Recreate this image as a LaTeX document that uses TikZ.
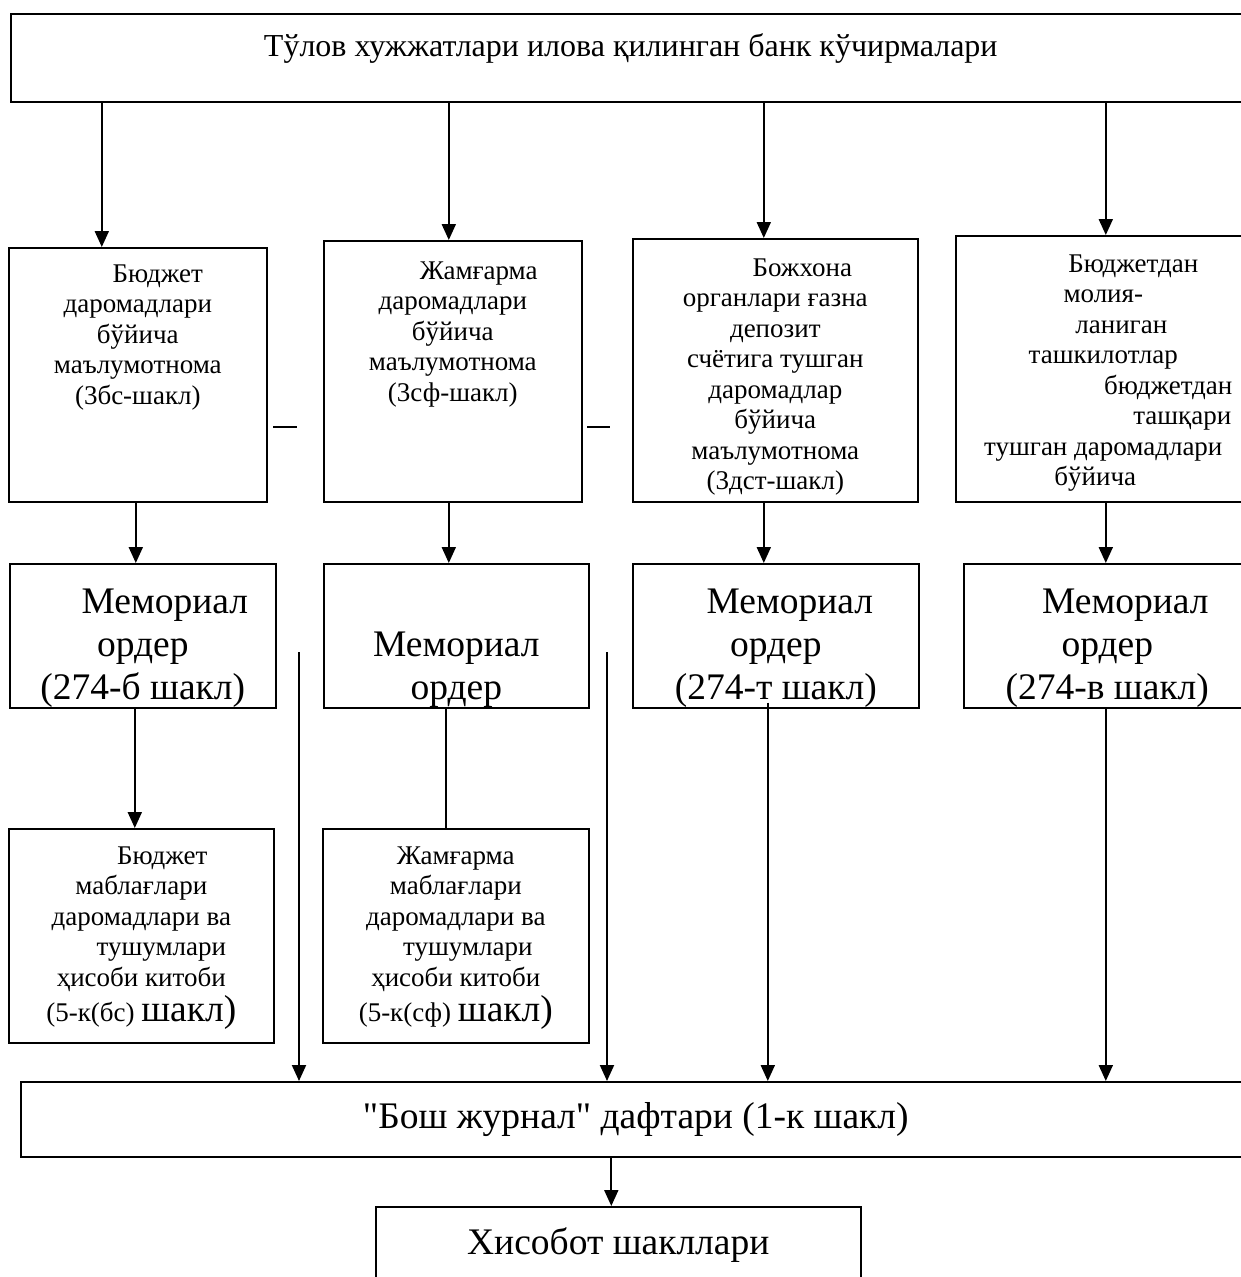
\documentclass[tikz,border=0pt]{standalone}
\usepackage{fontspec}
\setmainfont{Liberation Serif}[Ligatures=TeXOff]
\usetikzlibrary{arrows.meta,calc}
\newcommand{\txtsmall}{\fontsize{27}{30.5}\selectfont}
\newcommand{\txtlarge}{\fontsize{37.5}{43}\selectfont}
\newcommand{\txthead}{\fontsize{32}{36}\selectfont}
% text block hung from the top / sat on the bottom of a box
\newcommand{\topcell}[4]{\parbox[c][#2][t]{#1}{\centering\vspace*{#3}#4\par}}
\newcommand{\botcell}[4]{\parbox[c][#2][b]{#1}{\centering #4\par\vspace*{#3}}}
\newcommand{\midcell}[3]{\parbox[c][#2][c]{#1}{\centering #3\par}}
\tikzset{
  every node/.style={text=black},
  box/.style={draw,line width=1.6pt,inner sep=0pt,anchor=north west},
  arrow/.style={-{Triangle[width=14pt,length=16pt]},line width=2pt},
  plain/.style={line width=2pt},
  stub/.style={line width=1.5pt},
}
\begin{document}
\begin{tikzpicture}[x=1pt,y=-1pt]
\useasboundingbox (0,0) rectangle (1240,1277);
% source
\node[box] (top) at (10,13) {\topcell{1240pt}{88pt}{20pt}{\txthead Тўлов хужжатлари илова қилинган банк кўчирмалари}};
% reports
\node[box] (b1) at (8,247) {\topcell{258pt}{254pt}{17pt}{\txtsmall\hspace*{40pt}Бюджет\\даромадлари\\бўйича\\маълумотнома\\(3бс-шакл)}};
\node[box] (b2) at (323,240) {\topcell{258pt}{261pt}{21pt}{\txtsmall\hspace*{52pt}Жамғарма\\даромадлари\\бўйича\\маълумотнома\\(3сф-шакл)}};
\node[box] (b3) at (632,238) {\topcell{285pt}{263pt}{20pt}{\txtsmall\hspace*{54pt}Божхона\\органлари ғазна\\депозит\\счётига тушган\\даромадлар\\бўйича\\маълумотнома\\(3дст-шакл)}};
\node[box] (b4) at (955,235) {\topcell{295pt}{266pt}{19pt}{\txtsmall\hspace*{60pt}Бюджетдан\\молия-\hspace*{16pt}\\\hspace*{36pt}ланиган\\ташкилотлар\hspace*{26pt}\\\hspace*{130pt}бюджетдан\\\hspace*{158pt}ташқари\\тушган даромадлари\\бўйича\hspace*{16pt}}};
% memorial orders
\node[box] (m1) at (9,563) {\botcell{266pt}{144pt}{0pt}{\txtlarge\hspace*{44pt}Мемориал\\ордер\\(274-б шакл)}};
\node[box] (m2) at (323,563) {\botcell{265pt}{144pt}{0pt}{\txtlarge Мемориал\\ордер}};
\node[box] (m3) at (632,563) {\botcell{286pt}{144pt}{0pt}{\txtlarge\hspace*{28pt}Мемориал\\ордер\\(274-т шакл)}};
\node[box] (m4) at (963,563) {\botcell{287pt}{144pt}{0pt}{\txtlarge\hspace*{36pt}Мемориал\\ордер\\(274-в шакл)}};
% books
\node[box] (k1) at (8,828) {\topcell{265pt}{214pt}{18pt}{\txtsmall\hspace*{42pt}Бюджет\\маблағлари\\даромадлари ва\\\hspace*{40pt}тушумлари\\ҳисоби китоби\\[3pt](5-к(бс) {\txtlarge шакл)}}};
\node[box] (k2) at (322,828) {\topcell{266pt}{214pt}{18pt}{\txtsmall Жамғарма\\маблағлари\\даромадлари ва\\\hspace*{24pt}тушумлари\\ҳисоби китоби\\[3pt](5-к(сф) {\txtlarge шакл)}}};
% journal and reports
\node[box] (bosh) at (20,1081) {\midcell{1230pt}{75pt}{\txtlarge "Бош журнал" дафтари (1-к шакл)}};
\node[box] (his) at (375,1206) {\topcell{485pt}{90pt}{21pt}{\txtlarge Хисобот шакллари}};
\coordinate (f1) at (299,652);
\coordinate (f2) at (607,652);
\draw[arrow] ([xshift=-36pt]b1.north |- top.south) -- ([xshift=-36pt]b1.north);
\draw[arrow] ([xshift=-4pt]b2.north |- top.south) -- ([xshift=-4pt]b2.north);
\draw[arrow] ([xshift=-11.5pt]b3.north |- top.south) -- ([xshift=-11.5pt]b3.north);
\draw[arrow] ([xshift=2.5pt]b4.north |- top.south) -- ([xshift=2.5pt]b4.north);
\draw[arrow] ([xshift=-7pt]m1.north |- b1.south) -- ([xshift=-7pt]m1.north);
\draw[arrow] ([xshift=-7.5pt]m2.north |- b2.south) -- ([xshift=-7.5pt]m2.north);
\draw[arrow] ([xshift=-12pt]m3.north |- b3.south) -- ([xshift=-12pt]m3.north);
\draw[arrow] ([xshift=-1.5pt]m4.north |- b4.south) -- ([xshift=-1.5pt]m4.north);
\draw[arrow] ([xshift=-6.5pt]k1.north |- m1.south) -- ([xshift=-6.5pt]k1.north);
\draw[plain] ([xshift=-10pt]k2.north |- m2.south) -- ([xshift=-10pt]k2.north);
\draw[arrow] (f1) -- (f1 |- bosh.north);
\draw[arrow] (f2) -- (f2 |- bosh.north);
\draw[arrow] ([xshift=-8pt,yshift=6pt]m3.south) -- ([xshift=-8pt]m3.south |- bosh.north);
\draw[arrow] ([xshift=-1.5pt]m4.south) -- ([xshift=-1.5pt]m4.south |- bosh.north);
\draw[arrow] ([xshift=-7pt]his.north |- bosh.south) -- ([xshift=-7pt]his.north);
\draw[stub] (273,427) -- (297,427);
\draw[stub] (587,427) -- (610,427);
\end{tikzpicture}
\end{document}
